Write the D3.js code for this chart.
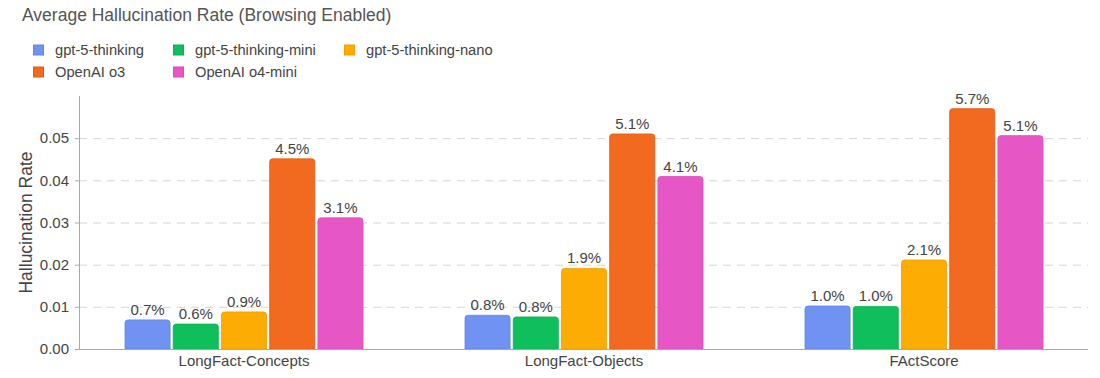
<!DOCTYPE html>
<html>
<head>
<meta charset="utf-8">
<script src="https://cdn.jsdelivr.net/npm/d3@7"></script>
<style>
  body { margin: 0; background: #fff; }
  text { font-family: "Liberation Sans", Arial, sans-serif; }
</style>
</head>
<body>
<div id="chart"></div>
<script>
// data
var categories = ["LongFact-Concepts", "LongFact-Objects", "FActScore"];
var models = ["gpt-5-thinking", "gpt-5-thinking-mini", "gpt-5-thinking-nano", "OpenAI o3", "OpenAI o4-mini"];
var colors = ["#7092f2", "#0fbf5c", "#fcac02", "#f26a1f", "#e756c5"];
var strokes = ["#6384e6", "#0cae52", "#efa000", "#e05c14", "#d84ab6"];
var gpt5Thinking = [0.0069, 0.0080, 0.0102];
var gpt5ThinkingMini = [0.0059, 0.0076, 0.0101];
var gpt5ThinkingNano = [0.0088, 0.0191, 0.0211];
var o3 = [0.0451, 0.0510, 0.0570];
var o4mini = [0.0311, 0.0409, 0.0506];
var yTicks = [0, 0.01, 0.02, 0.03, 0.04, 0.05];
var series = [gpt5Thinking, gpt5ThinkingMini, gpt5ThinkingNano, o3, o4mini];

var width = 1100, height = 378;
var svg = d3.select("#chart").append("svg")
  .attr("width", width).attr("height", height);

var plotLeft = 79, plotRight = 1088, plotTop = 96, plotBottom = 349;

var y = d3.scaleLinear().domain([0, 0.06]).range([plotBottom, plotTop]);
var x0 = d3.scaleBand().domain(categories).range([74, 1094])
  .paddingInner(0.3).paddingOuter(0.15);
var x1 = d3.scaleBand().domain(models).range([0, x0.bandwidth()]).paddingInner(0.065);

// title
svg.append("text")
  .attr("x", 22).attr("y", 21)
  .attr("font-size", 17.5).attr("fill", "#555")
  .text("Average Hallucination Rate (Browsing Enabled)");

// legend
var legendPos = [[33, 50], [173, 50], [344, 50], [33, 72], [173, 72]];
models.forEach(function(m, i) {
  var g = svg.append("g").attr("transform", "translate(" + legendPos[i][0] + "," + legendPos[i][1] + ")");
  g.append("rect").attr("x", 0.5).attr("y", -5).attr("width", 10).attr("height", 10)
    .attr("fill", colors[i]).attr("stroke", strokes[i]);
  g.append("text").attr("x", 22).attr("y", 5)
    .attr("font-size", 14.7).attr("fill", "#444").text(m);
});

// grid lines
svg.append("g").selectAll("line")
  .data(yTicks.slice(1))
  .enter().append("line")
    .attr("x1", plotLeft).attr("x2", plotRight)
    .attr("y1", function(d) { return y(d) + 0.5; })
    .attr("y2", function(d) { return y(d) + 0.5; })
    .attr("stroke", "#d6d6d6").attr("stroke-dasharray", "8,6");

// y axis
var yAxis = svg.append("g")
  .attr("transform", "translate(" + plotLeft + ",0)")
  .call(d3.axisLeft(y).tickValues(yTicks).tickFormat(d3.format(".2f")).tickSize(4).tickSizeOuter(0));
yAxis.select(".domain").attr("stroke", "#aaa");
yAxis.selectAll(".tick line").attr("stroke", "#aaa");
yAxis.selectAll(".tick text").attr("font-size", 15).attr("fill", "#444")
  .attr("font-family", "Liberation Sans, Arial, sans-serif").attr("dx", -3);
yAxis.select(".domain").attr("d", "M0.5," + plotTop + "V" + (plotBottom + 0.5));

svg.append("text")
  .attr("transform", "translate(32," + ((plotTop + plotBottom) / 2) + ") rotate(-90)")
  .attr("text-anchor", "middle")
  .attr("font-size", 17.5).attr("fill", "#444")
  .text("Hallucination Rate");

// bars
var groups = svg.append("g").selectAll("g")
  .data(categories)
  .enter().append("g")
    .attr("transform", function(d) { return "translate(" + x0(d) + ",0)"; });

groups.selectAll("path")
  .data(function(c, ci) { return models.map(function(m, mi) { return {model: m, i: mi, value: series[mi][ci]}; }); })
  .enter().append("path")
    .attr("d", function(d) {
      var bx = x1(d.model), bw = x1.bandwidth(), top = y(d.value), r = 3;
      return "M" + bx + "," + (plotBottom) +
        "V" + (top + r) + "Q" + bx + "," + top + " " + (bx + r) + "," + top +
        "H" + (bx + bw - r) + "Q" + (bx + bw) + "," + top + " " + (bx + bw) + "," + (top + r) +
        "V" + plotBottom + "Z";
    })
    .attr("fill", function(d) { return colors[d.i]; })
    .attr("stroke", function(d) { return strokes[d.i]; })
    .attr("stroke-width", 0.8);

groups.selectAll("text")
  .data(function(c, ci) { return models.map(function(m, mi) { return {model: m, i: mi, value: series[mi][ci]}; }); })
  .enter().append("text")
    .attr("x", function(d) { return x1(d.model) + x1.bandwidth() / 2; })
    .attr("y", function(d) { return y(d.value) - 5; })
    .attr("text-anchor", "middle")
    .attr("font-size", 15).attr("fill", "#444")
    .text(function(d) { return d3.format(".1%")(d.value); });

// x axis
svg.append("line")
  .attr("x1", plotLeft).attr("x2", plotRight)
  .attr("y1", plotBottom + 0.5).attr("y2", plotBottom + 0.5)
  .attr("stroke", "#aaa");

svg.append("g").selectAll("text")
  .data(categories)
  .enter().append("text")
    .attr("x", function(d) { return x0(d) + x0.bandwidth() / 2; })
    .attr("y", 366)
    .attr("text-anchor", "middle")
    .attr("font-size", 15).attr("fill", "#444")
    .text(function(d) { return d; });
</script>
</body>
</html>
